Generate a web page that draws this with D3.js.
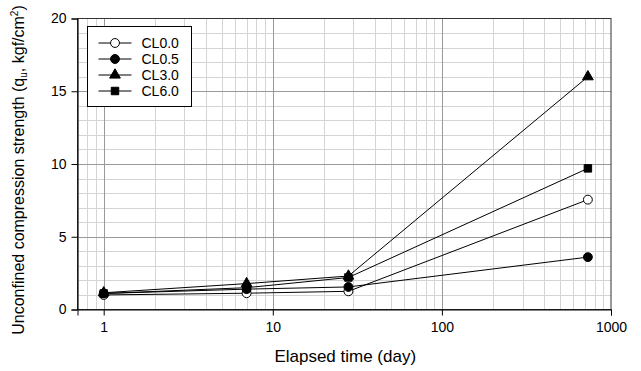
<!DOCTYPE html>
<html>
<head>
<meta charset="utf-8">
<script src="https://cdn.jsdelivr.net/npm/d3@7"></script>
<style>
  body { margin: 0; background: #fff; }
  svg { font-family: Arial, "Liberation Sans", sans-serif; }
</style>
</head>
<body>
<div id="chart"></div>
<script>
// elapsed days and strengths (kgf/cm2)
const days = [1, 7, 28, 730]
const seriesNames = ['CL0.0', 'CL0.5', 'CL3.0', 'CL6.0']
const cl00 = [1.0, 1.12, 1.25, 7.55]
const cl05 = [1.1, 1.4, 1.55, 3.6]
const cl30 = [1.15, 1.78, 2.3, 16.0]
const cl60 = [1.1, 1.5, 2.2, 9.7]
const xTicks = [1, 10, 100, 1000]
const yTicks = [0, 5, 10, 15, 20]

const width = 641, height = 371
const m = { top: 18.5, right: 30, bottom: 61.5, left: 77.5 }

const svg = d3.select('#chart').append('svg')
    .attr('width', width)
    .attr('height', height)

const x = d3.scaleLog().domain([0.7, 1000]).range([m.left, width - m.right])
const y = d3.scaleLinear().domain([0, 20]).range([height - m.bottom, m.top])

// grid: minor first, then major
let minorX = []
for (let d = 0.1; d < 1000; d *= 10) {
    for (let k = 2; k <= 9; k++) minorX.push(d * k)
}
minorX = minorX.filter(v => v > 0.7 && v < 1000)
const minorY = d3.range(1, 20).filter(v => v % 5 !== 0)

const grid = svg.append('g')
grid.selectAll('.mx').data(minorX).enter().append('line')
    .attr('x1', d => Math.round(x(d)) + 0.5).attr('x2', d => Math.round(x(d)) + 0.5)
    .attr('y1', y(0)).attr('y2', y(20))
    .attr('stroke', '#d4d4d4').attr('stroke-width', 1)
grid.selectAll('.my').data(minorY).enter().append('line')
    .attr('x1', x(0.7)).attr('x2', x(1000))
    .attr('y1', d => Math.round(y(d)) + 0.5).attr('y2', d => Math.round(y(d)) + 0.5)
    .attr('stroke', '#d4d4d4').attr('stroke-width', 1)
grid.selectAll('.Mx').data([1, 10, 100]).enter().append('line')
    .attr('x1', d => Math.round(x(d)) + 0.5).attr('x2', d => Math.round(x(d)) + 0.5)
    .attr('y1', y(0)).attr('y2', y(20))
    .attr('stroke', '#9a9a9a').attr('stroke-width', 1)
grid.selectAll('.My').data([5, 10, 15]).enter().append('line')
    .attr('x1', x(0.7)).attr('x2', x(1000))
    .attr('y1', d => Math.round(y(d)) + 0.5).attr('y2', d => Math.round(y(d)) + 0.5)
    .attr('stroke', '#9a9a9a').attr('stroke-width', 1)

// frame
svg.append('rect')
    .attr('x', x(0.7)).attr('y', y(20))
    .attr('width', x(1000) - x(0.7)).attr('height', y(0) - y(20))
    .attr('fill', 'none').attr('stroke', '#333').attr('stroke-width', 1)

// axes
const xAxis = svg.append('g')
    .attr('transform', 'translate(0,' + y(0) + ')')
    .call(d3.axisBottom(x).tickValues(xTicks).tickFormat(d3.format('d')).tickSizeOuter(0).tickSize(6).tickPadding(7))
const yAxis = svg.append('g')
    .attr('transform', 'translate(' + x(0.7) + ',0)')
    .call(d3.axisLeft(y).tickValues(yTicks).tickSizeOuter(0).tickSize(6).tickPadding(5))
;[xAxis, yAxis].forEach(a => {
    a.selectAll('text').attr('font-size', 14).attr('fill', '#000')
    a.selectAll('line').attr('stroke', '#000')
    a.select('.domain').attr('stroke', '#000')
    a.attr('font-family', null)
})

// axis titles
svg.append('text')
    .attr('x', (x(0.7) + x(1000)) / 2 + 1).attr('y', 362)
    .attr('text-anchor', 'middle').attr('font-size', 17)
    .text('Elapsed time (day)')

const yt = svg.append('text')
    .attr('transform', 'translate(24,' + ((y(0) + y(20)) / 2 + 6) + ') rotate(-90)')
    .attr('text-anchor', 'middle').attr('font-size', 16)
yt.append('tspan').text('Unconfined compression strength (q')
yt.append('tspan').attr('font-size', 10).attr('baseline-shift', '-3').text('u')
yt.append('tspan').text(', kgf/cm')
yt.append('tspan').attr('font-size', 10).attr('baseline-shift', '6').text('2')
yt.append('tspan').text(')')

// series
const seriesData = [cl00, cl05, cl30, cl60]
const markers = [
    { type: d3.symbolCircle, size: 62, fill: '#fff' },
    { type: d3.symbolCircle, size: 62, fill: '#000' },
    { type: d3.symbolTriangle, size: 50, fill: '#000' },
    { type: d3.symbolSquare, size: 56, fill: '#000' }
]
const line = d3.line().x(d => x(d[0])).y(d => y(d[1]))

seriesData.forEach((vals, i) => {
    const pts = days.map((d, j) => [d, vals[j]])
    svg.append('path').datum(pts)
        .attr('d', line).attr('fill', 'none')
        .attr('stroke', '#000').attr('stroke-width', 1)
})
seriesData.forEach((vals, i) => {
    const pts = days.map((d, j) => [d, vals[j]])
    svg.append('g').selectAll('path').data(pts).enter().append('path')
        .attr('transform', d => 'translate(' + x(d[0]) + ',' + y(d[1]) + ')')
        .attr('d', d3.symbol().type(markers[i].type).size(markers[i].size))
        .attr('fill', markers[i].fill).attr('stroke', '#000').attr('stroke-width', 1)
})

// legend
const lg = svg.append('g').attr('transform', 'translate(87.5,26.5)')
lg.append('rect').attr('width', 104).attr('height', 80)
    .attr('fill', '#fff').attr('stroke', '#000').attr('stroke-width', 1)
seriesNames.forEach((name, i) => {
    const ry = 16.5 + i * 16
    const g = lg.append('g').attr('transform', 'translate(0,' + ry + ')')
    g.append('line').attr('x1', 11).attr('x2', 44).attr('y1', 0).attr('y2', 0)
        .attr('stroke', '#000').attr('stroke-width', 1)
    g.append('path').attr('transform', 'translate(27.5,0)')
        .attr('d', d3.symbol().type(markers[i].type).size(markers[i].size))
        .attr('fill', markers[i].fill).attr('stroke', '#000').attr('stroke-width', 1)
    g.append('text').attr('x', 54).attr('y', 5).attr('font-size', 14).text(name)
})
</script>
</body>
</html>
